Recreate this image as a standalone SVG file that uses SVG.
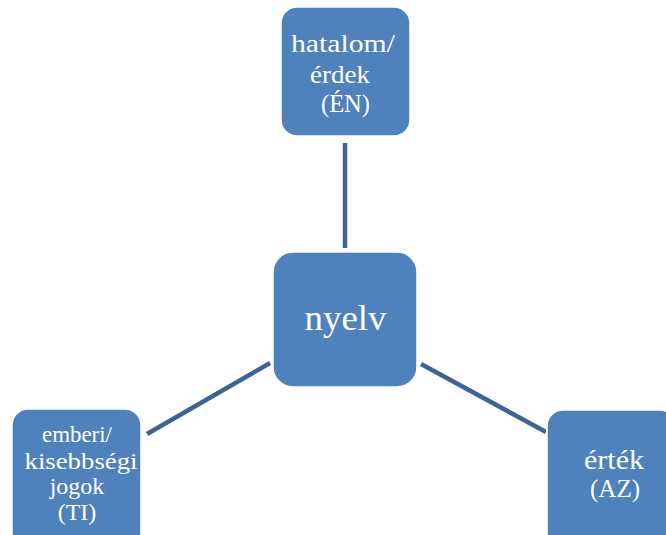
<svg xmlns="http://www.w3.org/2000/svg" width="666" height="535" viewBox="0 0 666 535">
<style>
.node rect{fill:#4F81BD;stroke:#ffffff;stroke-width:1.5}
.node text{fill:#ffffff;font-family:"Liberation Serif","Times New Roman",serif;text-anchor:middle}
.conn line{stroke:#3C6494;stroke-width:4.5}
</style>
<rect width="666" height="535" fill="#ffffff"/>
<g class="conn" id="connectors">
<line x1="345" y1="143" x2="345" y2="248"/>
<line x1="147" y1="434" x2="270" y2="363"/>
<line x1="421" y1="364" x2="546" y2="432"/>
</g>
<g class="node" id="node-top">
<rect x="281" y="7" width="129" height="129" rx="16"/>
<text x="343" y="52" font-size="26" textLength="104" lengthAdjust="spacingAndGlyphs">hatalom/</text>
<text x="340" y="83" font-size="26" textLength="60" lengthAdjust="spacingAndGlyphs">érdek</text>
<text x="345.5" y="112" font-size="24.5">(ÉN)</text>
</g>
<g class="node" id="node-center">
<rect x="273" y="252" width="144" height="135" rx="20"/>
<text x="345.5" y="330" font-size="36" textLength="82" lengthAdjust="spacingAndGlyphs">nyelv</text>
</g>
<g class="node" id="node-left">
<rect x="12" y="409" width="129" height="140" rx="16"/>
<text x="77" y="442" font-size="24" textLength="70" lengthAdjust="spacingAndGlyphs">emberi/</text>
<text x="81" y="469" font-size="24" textLength="113" lengthAdjust="spacingAndGlyphs">kisebbségi</text>
<text x="77" y="494" font-size="24">jogok</text>
<text x="77" y="520" font-size="24">(TI)</text>
</g>
<g class="node" id="node-right">
<rect x="547" y="410" width="129" height="140" rx="16"/>
<text x="614" y="469" font-size="27" textLength="60" lengthAdjust="spacingAndGlyphs">érték</text>
<text x="615" y="497" font-size="25">(AZ)</text>
</g>
</svg>
